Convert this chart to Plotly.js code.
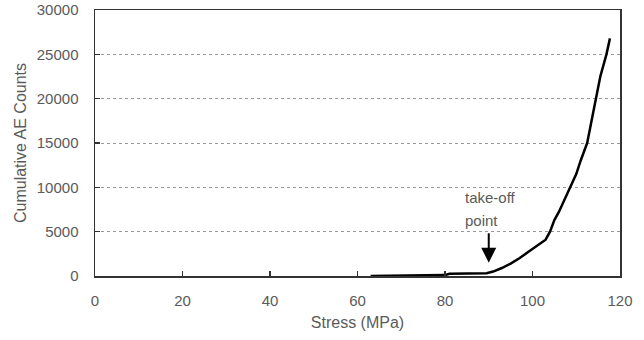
<!DOCTYPE html>
<html>
<head>
<meta charset="utf-8">
<script src="https://cdn.plot.ly/plotly-3.0.1.min.js"></script>
<style>html,body{margin:0;padding:0;background:#fff;}#chart{width:644px;height:340px;}</style>
</head>
<body>
<div id="chart"></div>
<script>
// Data
const stress = [63, 70, 75, 80, 81, 85, 88, 89.5, 91, 93, 95, 97, 99, 101, 102, 103, 104, 105, 106, 107, 108, 108.6, 110, 111, 112.5, 113.5, 114.5, 115.5, 116.9, 117.7];
const aeCounts = [0, 20, 50, 100, 250, 280, 300, 320, 500, 900, 1400, 2000, 2700, 3400, 3800, 4100, 5000, 6300, 7200, 8300, 9300, 10000, 11500, 13000, 15000, 17500, 20000, 22500, 25000, 26800];
const xTicks = [0, 20, 40, 60, 80, 100, 120];
const yTicks = [0, 5000, 10000, 15000, 20000, 25000, 30000];
const arrowTip = {x: 90, y: 1500};
const arrowTail = {x: 90, y: 5000};
const labelLine1 = {text: "take-off", x: 84.1, y: 8800};
const labelLine2 = {text: "point", x: 84.1, y: 6300};

const font = {family: "Liberation Sans, Arial, sans-serif", size: 15, color: "#5a5a5a"};
const titleFont = {family: "Liberation Sans, Arial, sans-serif", size: 16, color: "#5a5a5a"};

const trace = {
  x: stress, y: aeCounts, type: "scatter", mode: "lines",
  line: {color: "#000", width: 2.5}, hoverinfo: "skip"
};

const layout = {
  width: 644, height: 340,
  margin: {l: 95, r: 24, t: 10, b: 64},
  paper_bgcolor: "#fff", plot_bgcolor: "#fff",
  showlegend: false,
  font: font,
  xaxis: {
    range: [0, 120], tickvals: xTicks, ticktext: xTicks.map(String),
    showgrid: false, zeroline: false,
    showline: true, mirror: true, linecolor: "#333", linewidth: 1.5,
    ticks: "inside", ticklen: 5, tickcolor: "#333", tickwidth: 1.5,
    ticklabelstandoff: 10,
    tickfont: font,
    title: {text: "Stress (MPa)", font: titleFont, standoff: 9}
  },
  yaxis: {
    range: [0, 30000], tickvals: yTicks, ticktext: yTicks.map(String),
    showgrid: true, gridcolor: "#999", griddash: "3px,3px", gridwidth: 1,
    zeroline: false,
    showline: true, mirror: true, linecolor: "#333", linewidth: 1.5,
    ticks: "inside", ticklen: 5, tickcolor: "#333", tickwidth: 1.5,
    ticklabelstandoff: 12,
    tickfont: font,
    title: {text: "Cumulative AE Counts", font: titleFont, standoff: 6}
  },
  annotations: [
    {x: arrowTip.x, y: arrowTip.y, ax: arrowTail.x, ay: arrowTail.y, axref: "x", ayref: "y",
     xref: "x", yref: "y", showarrow: true, arrowhead: 2, arrowsize: 1.5, arrowwidth: 2, arrowcolor: "#000", text: ""},
    {x: labelLine1.x, y: labelLine1.y, xref: "x", yref: "y", text: labelLine1.text, showarrow: false, xanchor: "left", yanchor: "middle", font: font},
    {x: labelLine2.x, y: labelLine2.y, xref: "x", yref: "y", text: labelLine2.text, showarrow: false, xanchor: "left", yanchor: "middle", font: font}
  ]
};

Plotly.newPlot("chart", [trace], layout, {staticPlot: true, displayModeBar: false});
</script>
</body>
</html>
